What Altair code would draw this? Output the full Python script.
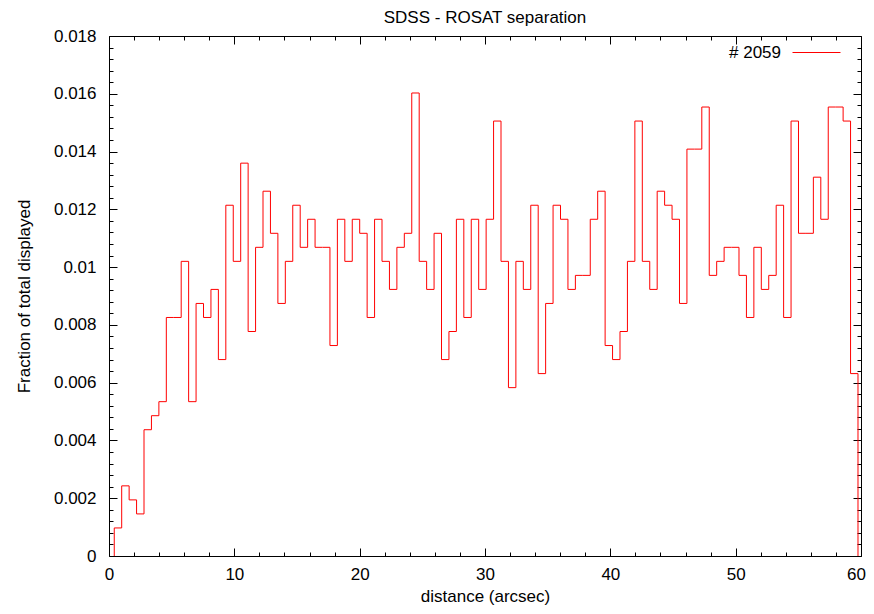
import altair as alt
import pandas as pd

TITLE = "SDSS - ROSAT separation"
X_TITLE = "distance (arcsec)"
Y_TITLE = "Fraction of total displayed"
SERIES = "# 2059"
TOTAL = 2059
BIN_START = 0.42
BIN_END = 59.76

# counts per bin (100 bins)
COUNTS = [2, 5, 4, 3, 9, 10, 11, 17, 17, 21,
          11, 18, 17, 19, 14, 25, 21, 28, 16, 22,
          26, 23, 18, 21, 25, 22, 24, 22, 22, 15,
          24, 21, 24, 23, 17, 24, 21, 19, 22, 23,
          33, 21, 19, 23, 14, 16, 24, 17, 24, 19,
          24, 31, 21, 12, 21, 19, 25, 13, 18, 25,
          24, 19, 20, 20, 24, 26, 15, 14, 16, 21,
          31, 21, 19, 26, 25, 24, 18, 29, 29, 32,
          20, 21, 22, 22, 20, 17, 22, 19, 20, 25,
          17, 31, 23, 23, 27, 24, 32, 32, 31, 13]

X_TICKS = [0, 10, 20, 30, 40, 50, 60]
Y_TICKS = [0, 0.002, 0.004, 0.006, 0.008, 0.01, 0.012, 0.014, 0.016, 0.018]
X_MINOR = list(range(0, 61, 2))
Y_MINOR = [round(i * 0.0004, 4) for i in range(46)]

n = len(COUNTS)
w = (BIN_END - BIN_START) / n
edges = [BIN_START + i * w for i in range(n + 1)]
rows = [{"x": edges[0], "y": 0.0, "i": 0}]
for i, c in enumerate(COUNTS):
    rows.append({"x": edges[i], "y": c / TOTAL, "i": i + 1})
rows.append({"x": edges[n], "y": 0.0, "i": n + 1})
df = pd.DataFrame(rows)
df["series"] = SERIES

W, H = 752, 520
FONT = "Liberation Sans"
FS = 17
xs = alt.Scale(domain=[0, 60], nice=False, zero=False)
ys = alt.Scale(domain=[0, 0.018], nice=False)

tick_x = {"condition": {"test": "datum.value % 10 === 0", "value": 8}, "value": 4}
tick_y = {"condition": {"test": "round(datum.value / 0.0004) % 5 === 0", "value": 8}, "value": 4}
last_label_shift = {"condition": {"test": "datum.value === 60", "value": -5}, "value": 0}

line = alt.Chart(df).mark_line(interpolate="step-after", strokeWidth=1).encode(
    x=alt.X("x:Q", scale=xs, axis=alt.Axis(
        orient="bottom", values=X_TICKS, title=X_TITLE, ticks=False, tickSize=0,
        domain=False, grid=False, labelPadding=10, labelFontSize=FS, labelFont=FONT,
        labelColor="black", labelOffset=last_label_shift, labelOverlap=False,
        labelFlush=False, titleFont=FONT, titleFontSize=FS, titleFontWeight="normal",
        titleColor="black", titlePadding=6)),
    y=alt.Y("y:Q", scale=ys, axis=alt.Axis(
        orient="left", values=Y_TICKS, format="~g", title=Y_TITLE, ticks=False, tickSize=0,
        domain=False, grid=False, labelPadding=13, labelFontSize=FS, labelFont=FONT,
        labelColor="black", labelOverlap=False, labelFlush=False, titleFont=FONT,
        titleFontSize=FS, titleFontWeight="normal", titleColor="black", titlePadding=20)),
    color=alt.Color("series:N", scale=alt.Scale(domain=[SERIES], range=["#ff0000"]),
                    legend=alt.Legend(orient="none", legendX=683, legendY=-8, title=None,
                                      symbolType="stroke", symbolSize=2304, symbolStrokeWidth=1,
                                      labelFontSize=FS, labelFont=FONT, labelColor="black",
                                      labelAlign="right", labelOffset={"expr": "-60"}, padding=0,
                                      symbolOffset=0)),
    order="i:Q",
)


def tick_layer(xorient, yorient):
    return alt.Chart(df).mark_line(opacity=0).encode(
        x=alt.X("x:Q", scale=xs, axis=alt.Axis(
            orient=xorient, offset=-H, values=X_MINOR, labels=False, domain=False,
            grid=False, title=None, tickSize=tick_x, tickColor="black", tickWidth=1)),
        y=alt.Y("y:Q", scale=ys, axis=alt.Axis(
            orient=yorient, offset=-W, values=Y_MINOR, labels=False, domain=False,
            grid=False, title=None, tickSize=tick_y, tickColor="black", tickWidth=1)),
        order="i:Q",
    )


chart = alt.layer(line, tick_layer("top", "right"), tick_layer("bottom", "left")).resolve_axis(
    x="independent", y="independent"
).properties(
    width=W, height=H,
    title=alt.TitleParams(TITLE, fontSize=FS, font=FONT, fontWeight="normal",
                          anchor="middle", offset=0, color="black"),
    autosize=alt.AutoSizeParams(type="none"),
    padding={"left": 101, "top": 28, "right": 5, "bottom": 50},
).configure_view(stroke="black", strokeWidth=1)

chart.save("out.html", embed_options={"renderer": "svg", "actions": False})
